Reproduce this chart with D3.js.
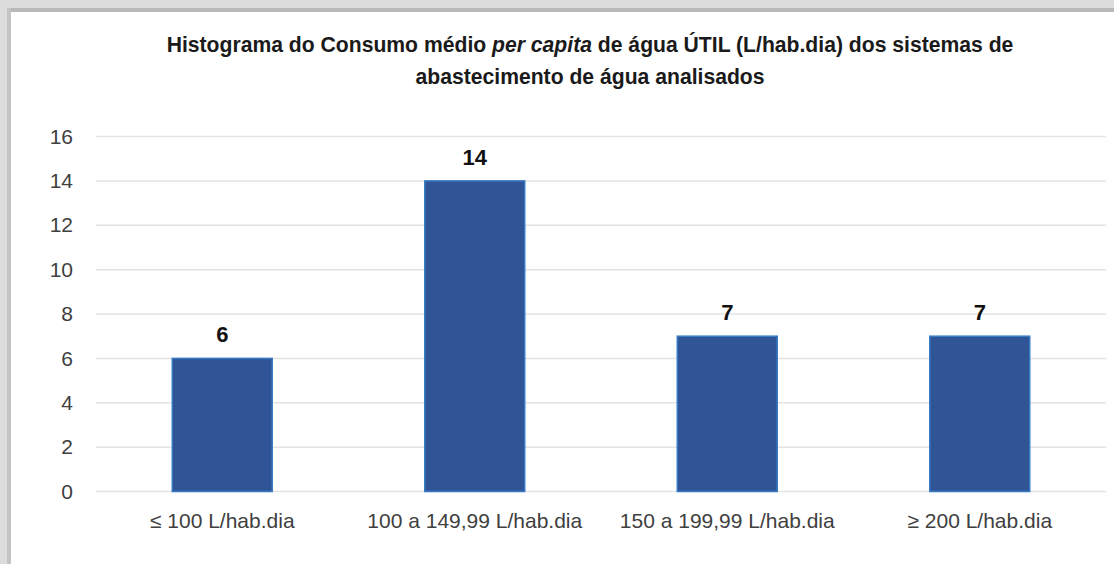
<!doctype html>
<html>
<head>
    <meta charset="UTF-8">
    <title>Histograma</title>
    <script src="https://d3js.org/d3.v7.min.js"></script>
    <style>
        body { margin: 0; background: #fff; }
        svg text { font-family: "Liberation Sans Narrow", "Arial Narrow", "Liberation Sans", Arial, sans-serif; }
    </style>
</head>
<body>
    <svg width="1114" height="564"></svg>
    <script>
        var categories = ["≤ 100 L/hab.dia", "100 a 149,99 L/hab.dia", "150 a 199,99 L/hab.dia", "≥ 200 L/hab.dia"];
        var values = [6, 14, 7, 7];
        var yTicks = [0, 2, 4, 6, 8, 10, 12, 14, 16];

        var svg = d3.select("svg");

        // shadow frame at top and left
        svg.append("rect").attr("x", 0).attr("y", 0).attr("width", 1114).attr("height", 8).attr("fill", "#dcdcdc");
        svg.append("rect").attr("x", 0).attr("y", 8).attr("width", 1114).attr("height", 4).attr("fill", "#b9b9b9");
        svg.append("rect").attr("x", 0).attr("y", 0).attr("width", 7).attr("height", 564).attr("fill", "#dcdcdc");
        svg.append("rect").attr("x", 7).attr("y", 8).attr("width", 4).attr("height", 556).attr("fill", "#c4c4c4");

        var x = d3.scaleBand()
            .domain(categories)
            .range([96, 1106])
            .paddingInner(0.604)
            .paddingOuter(0.302);

        var y = d3.scaleLinear()
            .domain([0, 16])
            .range([491.5, 136.5]);

        // gridlines
        svg.append("g")
            .selectAll("line")
            .data(yTicks)
            .enter().append("line")
            .attr("x1", 96)
            .attr("x2", 1106)
            .attr("y1", function (d) { return y(d); })
            .attr("y2", function (d) { return y(d); })
            .attr("stroke", "#e3e3e3")
            .attr("stroke-width", 1.5);

        // y axis labels
        var yAxis = d3.axisLeft(y).tickValues(yTicks).tickSize(0).tickPadding(0);
        var gy = svg.append("g").attr("transform", "translate(73,0)").call(yAxis);
        gy.select(".domain").remove();
        gy.selectAll("text")
            .attr("font-size", 21)
            .attr("fill", "#404040")
            .attr("font-family", null);

        // x axis labels
        var xAxis = d3.axisBottom(x).tickSize(0).tickPadding(0);
        var gx = svg.append("g").attr("transform", "translate(0,513)").call(xAxis);
        gx.select(".domain").remove();
        gx.selectAll("text")
            .attr("font-size", 21)
            .attr("fill", "#404040")
            .attr("font-family", null);

        // bars
        svg.append("g")
            .selectAll("rect")
            .data(values)
            .enter().append("rect")
            .attr("x", function (d, i) { return x(categories[i]); })
            .attr("y", function (d) { return y(d); })
            .attr("width", x.bandwidth())
            .attr("height", function (d) { return y(0) - y(d); })
            .attr("fill", "#2f5597")
            .attr("stroke", "#3a7cc4")
            .attr("stroke-width", 1.5);

        // data labels
        svg.append("g")
            .selectAll("text")
            .data(values)
            .enter().append("text")
            .attr("x", function (d, i) { return x(categories[i]) + x.bandwidth() / 2; })
            .attr("y", function (d) { return y(d) - 16; })
            .attr("text-anchor", "middle")
            .attr("font-size", 22)
            .attr("font-weight", "bold")
            .attr("fill", "#111")
            .text(function (d) { return d; });

        // title, a bit condensed
        var tg = svg.append("g").attr("transform", "translate(590,0) scale(0.94,1)");
        var title = tg.append("text")
            .attr("x", 0)
            .attr("y", 52)
            .attr("text-anchor", "middle")
            .attr("font-size", 22.5)
            .attr("font-weight", "bold")
            .attr("fill", "#1a1a1a");
        title.append("tspan").text("Histograma do Consumo médio ");
        title.append("tspan").attr("font-style", "italic").text("per capita");
        title.append("tspan").text(" de água ÚTIL (L/hab.dia) dos sistemas de");
        tg.append("text")
            .attr("x", 0)
            .attr("y", 84)
            .attr("text-anchor", "middle")
            .attr("font-size", 22.5)
            .attr("font-weight", "bold")
            .attr("fill", "#1a1a1a")
            .text("abastecimento de água analisados");
    </script>
</body>
</html>
